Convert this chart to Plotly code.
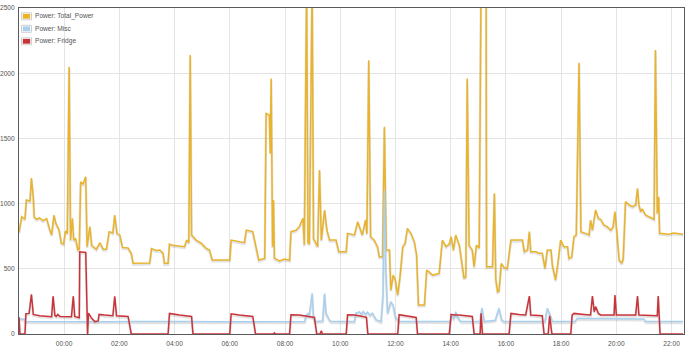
import plotly.graph_objects as go
from datetime import datetime, timedelta

# ---------------- data ----------------
total_t = ["22:22","22:28","22:35","22:38","22:46","22:49","22:53","22:55","23:00","23:07","23:14","23:22","23:29","23:33",
           "23:38","23:42","23:49","23:54","23:59","00:03","00:07","00:11","00:14","00:18","00:21","00:25","00:30","00:33",
           "00:36","00:41","00:47","00:50","00:56","01:00","01:10","01:18","01:25","01:32","01:38","01:46","01:50","01:55",
           "02:01","02:07","02:19","02:26","02:30","03:06","03:10","03:20","03:28","03:35","03:38","03:46","03:49","03:56",
           "04:22","04:26","04:31","04:34","04:37","04:47","04:58","05:09","05:16","05:22","06:00","06:03","06:32","06:36",
           "06:50","06:57","07:03","07:16","07:19","07:26","07:28","07:30","07:33","07:35","07:37","07:48","07:59","08:10",
           "08:13","08:24","08:31","08:39","08:42","08:47","08:50","08:53","08:59","09:02","09:04","09:11","09:15","09:19",
           "09:26","09:31","09:37","09:51","09:57","10:13","10:16","10:31","10:38","10:48","10:55","10:58","11:02","11:06",
           "11:14","11:21","11:25","11:32","11:36","11:40","11:47","11:50","11:55","12:00","12:05","12:10","12:16","12:21",
           "12:26","12:34","12:41","12:46","12:50","13:03","13:08","13:21","13:35","13:42","13:50","13:57","14:01","14:06",
           "14:11","14:19","14:24","14:29","14:33","14:36","14:40","14:47","14:51","14:56","15:02","15:06","15:17","15:18",
           "15:31","15:35","15:38","15:42","15:45","15:50","15:56","16:03","16:11","16:36","16:40","16:47","16:51","16:54",
           "17:05","17:12","17:19","17:25","17:30","17:38","17:41","17:48","17:53","17:59","18:06","18:14","18:17","18:23",
           "18:28","18:33","18:39","18:43","18:54","19:01","19:04","19:08","19:15","19:21","19:26","19:33","19:40","19:48",
           "19:53","19:57","20:02","20:06","20:12","20:15","20:20","20:28","20:35","20:42","20:46","20:49","20:53","20:56",
           "21:04","21:18","21:22","21:25","21:29","21:32","21:34","21:54","22:05","22:25"]
total_v = [780,900,880,1028,1020,1195,1050,900,880,890,870,885,800,760,
           912,850,800,697,690,790,770,2050,720,888,720,730,644,650,
           1168,1150,1206,670,823,680,650,700,650,650,785,775,912,770,
           760,664,660,619,542,545,655,640,644,620,542,542,690,680,
           670,720,700,2140,760,720,697,657,644,567,567,720,700,797,
           785,657,567,580,1692,1680,1386,1960,670,1028,582,560,575,565,
           785,795,823,887,682,2700,700,690,2700,730,720,670,1258,720,
           951,797,720,720,631,631,772,760,861,760,874,770,2100,746,
           720,670,593,593,1590,644,644,337,452,410,299,440,670,695,
           810,770,708,606,222,222,491,452,465,720,670,690,746,644,
           759,680,567,427,440,1960,680,644,516,682,660,2700,2700,516,
           516,1079,420,324,330,542,510,500,720,720,631,644,785,631,
           631,619,619,504,644,644,529,414,542,720,670,670,580,590,
           746,760,2080,785,770,760,874,797,951,887,880,836,823,797,
           823,938,746,567,542,580,1015,990,977,990,1117,990,938,960,
           912,887,880,2178,927,1053,772,765,775,765]

misc_t = ["22:22","22:33","22:36","23:30","00:30","01:30","02:30","03:30","04:30","05:30","06:30","07:30","08:43","08:46",
          "08:50","08:53","08:59","09:02","09:05","09:22","09:26","09:29","09:37","09:41","10:31","10:34","10:42","10:46",
          "10:50","10:55","10:59","11:05","11:10","11:18","11:29","11:33","11:36","11:39","11:43","11:50","11:55","12:00",
          "12:08","13:00","13:59","14:02","14:07","14:11","14:15","14:19","14:23","15:04","15:08","15:13","15:26","15:31",
          "15:37","15:45","15:51","15:56","17:00","17:25","17:30","17:35","17:41","18:30","18:35","19:22","20:06","21:00",
          "21:04","22:25"]
misc_v = [115,115,95,93,96,94,95,97,95,94,96,95,95,145,
          158,140,312,130,95,100,310,160,105,95,95,160,170,150,
          172,150,168,145,160,110,95,300,1100,500,158,248,220,130,
          95,96,95,135,120,171,130,110,95,95,200,95,100,107,
          105,197,107,95,96,95,197,158,95,95,120,118,120,115,
          95,95]

fridge_t = ["22:22","22:24","22:35","22:37","22:44","22:49","22:53","23:07","23:33","23:36","23:40","23:43","23:46","23:51",
            "00:16","00:20","00:23","00:30","00:33","00:34","00:47","00:51","00:53","01:00","01:07","01:14","01:16","01:28",
            "01:46","01:50","01:54","02:19","02:26","03:46","03:49","04:11","04:37","04:40","06:00","06:03","06:21","06:50",
            "06:56","07:35","07:37","07:39","08:10","08:13","08:31","09:04","09:09","09:16","09:19","09:21","10:13","10:16",
            "10:31","10:49","10:57","11:00","12:05","12:08","12:26","12:45","12:48","13:57","14:01","14:08","14:19","14:47",
            "14:51","15:04","15:06","15:09","16:07","16:11","16:29","16:43","16:51","16:54","17:19","17:23","17:32","17:35",
            "17:40","18:21","18:24","18:28","18:50","19:04","19:08","19:12","19:15","19:21","19:26","19:55","19:57","20:00",
            "20:42","20:46","20:49","21:29","21:31","21:35","22:25"]
fridge_v = [130,0,0,155,158,305,150,140,132,290,142,135,150,135,
            132,290,135,127,125,630,625,0,160,120,95,100,150,145,
            140,288,140,135,0,0,158,145,135,0,0,155,145,135,
            0,0,8,0,0,148,145,127,0,0,25,0,0,148,
            145,135,127,0,0,148,140,127,0,0,150,145,146,135,
            0,0,158,0,0,158,150,146,291,146,140,0,0,140,
            0,0,146,158,150,146,291,171,210,158,146,146,299,146,
            145,291,146,140,291,0,0]

series_names = ["Power: Total_Power", "Power: Misc", "Power: Fridge"]
y_ticks = [0, 500, 1000, 1500, 2000, 2500]


def to_dt(times):
    day = datetime(2024, 1, 1)
    out, prev = [], None
    for s in times:
        h, m = map(int, s.split(":"))
        if prev is not None and (h, m) < prev:
            day += timedelta(days=1)
        prev = (h, m)
        out.append(day + timedelta(hours=h, minutes=m))
    return out


colors = ["#E9B42C", "#A9D0EE", "#C9343B"]
series = [(to_dt(total_t), total_v), (to_dt(misc_t), misc_v), (to_dt(fridge_t), fridge_v)]

fig = go.Figure()
# shadows (drawn on hidden, slightly shifted axis)
for (x, y) in series:
    fig.add_trace(go.Scatter(x=x, y=y, mode="lines", yaxis="y", showlegend=False, hoverinfo="skip",
                             line=dict(color="rgba(0,0,0,0.11)", width=2.5)))
for (x, y), c, n in zip(series, colors, series_names):
    fig.add_trace(go.Scatter(x=x, y=y, mode="lines", yaxis="y2", name=n, showlegend=False,
                             line=dict(color=c, width=1.5)))

font = dict(family="Liberation Sans, Arial, sans-serif", size=6.6, color="#545454")

fig.update_layout(
    width=690, height=351,
    margin=dict(l=19, r=6, t=8, b=17, autoexpand=False),
    paper_bgcolor="white", plot_bgcolor="white",
    font=font,
    xaxis=dict(type="date", range=[datetime(2024, 1, 1, 22, 22), datetime(2024, 1, 2, 22, 27)],
               tickformat="%H:%M", dtick=2 * 3600 * 1000, tick0=datetime(2024, 1, 2, 0, 0),
               showgrid=True, gridcolor="#e4e4e4", gridwidth=1, automargin=False,
               showline=True, linecolor="#5a5a5a", linewidth=1, mirror=True,
               ticks="", ticklabelstandoff=3, tickfont=font),
    yaxis=dict(range=[10, 2510], visible=False, showgrid=False, fixedrange=True, automargin=False),
    yaxis2=dict(overlaying="y", side="left", range=[0, 2500], tickvals=y_ticks, automargin=False,
                showgrid=True, gridcolor="#e4e4e4", gridwidth=1, zeroline=False,
                showline=True, linecolor="#5a5a5a", linewidth=1, mirror=True,
                ticks="", ticklabelstandoff=2, tickfont=font),
    showlegend=False,
)

# legend (manual, top-left inside the plot)
H = 326.0
W = 665.0
def py(pix):
    return (334 - pix) / H
def px(pix):
    return (pix - 19) / W

for i, (c, n) in enumerate(zip(colors, series_names)):
    cy = 16.3 + i * 12.5
    fig.add_shape(type="rect", xref="paper", yref="paper", x0=px(21.5), x1=px(31.5), y0=py(cy + 3.5), y1=py(cy - 3.5),
                  line=dict(color="#d0d0d0", width=1), fillcolor="white", layer="above")
    fig.add_shape(type="rect", xref="paper", yref="paper", x0=px(22.8), x1=px(30.2), y0=py(cy + 2.4), y1=py(cy - 2.4),
                  line=dict(width=0), fillcolor=c, layer="above")
    fig.add_annotation(text=n, xref="paper", yref="paper", x=px(33), y=py(cy), xanchor="left", yanchor="middle",
                       showarrow=False, font=font)

fig.write_html("out.html")
